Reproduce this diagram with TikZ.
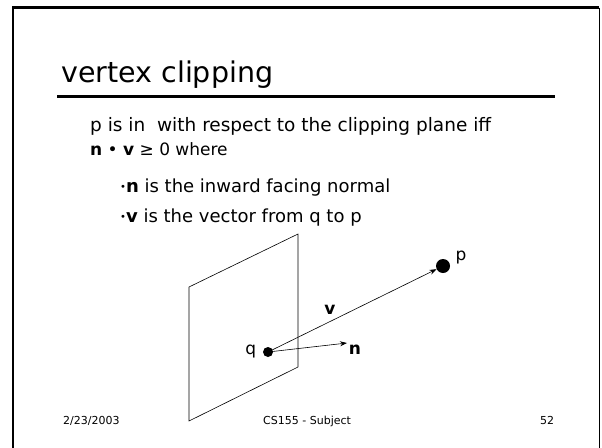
\documentclass[tikz,border=0pt]{standalone}
\usepackage{fontspec}
\setmainfont{DejaVu Sans}
\usetikzlibrary{arrows.meta,positioning}
\newcommand{\smallbullet}{{\fontsize{10}{10}\selectfont\raisebox{0.35ex}{•}}}

\begin{document}
\begin{tikzpicture}[x=1pt,y=-1pt,
  txt/.style={anchor=base west,inner sep=0pt},
  dot/.style={circle,fill=black,inner sep=0pt},
  vec/.style={-{Stealth[length=7pt,width=5pt]},line width=0.6pt}]
  \useasboundingbox (0,0) rectangle (602,447);
  % slide frame
  \draw[line width=2.5pt] (13,449) -- (13,7.5) -- (599,7.5);
  \draw[line width=1pt] (599.5,7.5) -- (599.5,449);
  % heading and text
  \node[txt,font=\fontsize{28.5}{30}\selectfont] (title) at (61,82) {vertex clipping};
  \draw[line width=3pt] (57,96) -- (555,96);
  \node[txt,font=\fontsize{18.5}{20}\selectfont] (line1) at (90,131) {p is in\ \ with respect to the clipping plane iff};
  \node[txt,font=\fontsize{17}{19}\selectfont] (line2) at (90,155) {\textbf{n} • \textbf{v} ≥ 0 where};
  \node[txt,font=\fontsize{18}{20}\selectfont] (line3) at (120,192) {\smallbullet\textbf{n} is the inward facing normal};
  \node[txt,font=\fontsize{18}{20}\selectfont] (line4) at (120,222) {\smallbullet\textbf{v} is the vector from q to p};
  % plane and vectors
  \draw[line width=0.6pt] (189,287) -- (298,234) -- (298,367) -- (189,421) -- cycle;
  \node[dot,minimum size=10pt] (q) at (268,352) {};
  \node[dot,minimum size=14pt] (p) at (443,266) {};
  \coordinate (ntip) at (347,343);
  \draw[vec] (q.center) -- (p);
  \draw[vec] (q.center) -- (ntip);
  \node[font=\fontsize{17}{19}\selectfont,left=3pt of q] (qlab) {q};
  \node[font=\fontsize{17}{19}\selectfont,anchor=south west] (plab) at (452,268) {p};
  \node[font=\fontsize{17}{19}\selectfont\bfseries] (vlab) at (330,310) {v};
  \node[font=\fontsize{17}{19}\selectfont\bfseries] (nlab) at (355,350) {n};
  % footer
  \node[txt,font=\fontsize{11}{13}\selectfont] (date) at (63,424) {2/23/2003};
  \node[txt,font=\fontsize{11}{13}\selectfont] (subj) at (263,424) {CS155 - Subject};
  \node[txt,font=\fontsize{11}{13}\selectfont] (page) at (540,424) {52};
\end{tikzpicture}
\end{document}
